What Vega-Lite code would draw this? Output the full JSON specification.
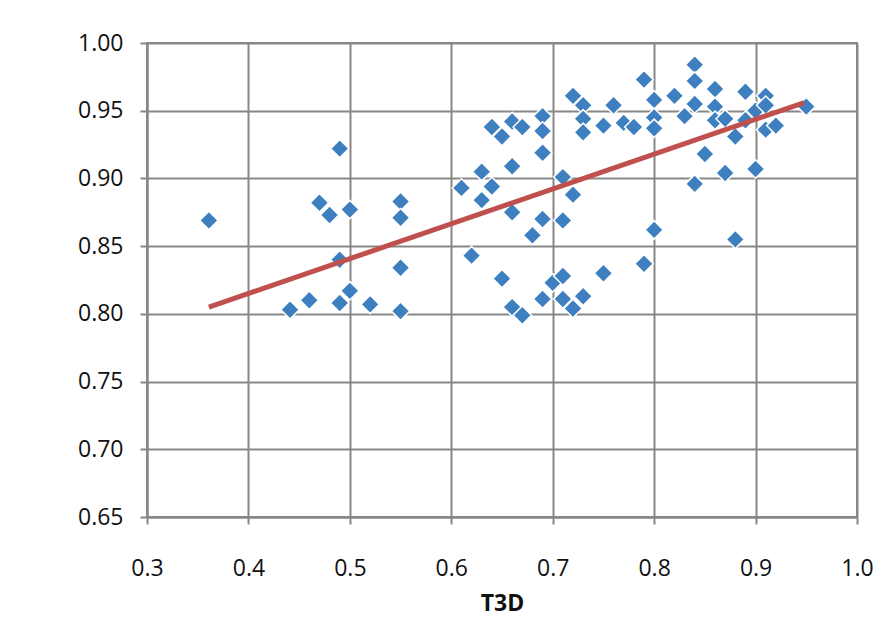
{
  "$schema": "https://vega.github.io/schema/vega-lite/v6.json",
  "width": 710,
  "height": 474,
  "autosize": {"type": "none"},
  "padding": {"left": 147, "top": 43, "right": 20, "bottom": 114},
  "background": "white",
  "config": {
    "view": {"stroke": "#878787", "strokeWidth": 2},
    "axis": {
      "gridColor": "#878787",
      "gridWidth": 2,
      "gridOpacity": 1,
      "domainColor": "#878787",
      "domainWidth": 2,
      "tickColor": "#878787",
      "tickWidth": 2,
      "tickSize": 7,
      "labelFont": "Open Sans",
      "labelFontSize": 23,
      "labelColor": "#111111",
      "titleFont": "Open Sans",
      "titleFontSize": 23,
      "titleFontWeight": "bold",
      "titleColor": "#111111",
      "labelOverlap": false,
      "labelBound": false,
      "labelFlush": false
    }
  },
  "datasets": {
    "pts": [
      {"T3D": 0.361, "v": 0.869}, {"T3D": 0.441, "v": 0.803}, {"T3D": 0.460, "v": 0.810},
      {"T3D": 0.470, "v": 0.882}, {"T3D": 0.480, "v": 0.873}, {"T3D": 0.490, "v": 0.922},
      {"T3D": 0.490, "v": 0.840}, {"T3D": 0.490, "v": 0.808}, {"T3D": 0.500, "v": 0.877},
      {"T3D": 0.500, "v": 0.817}, {"T3D": 0.520, "v": 0.807}, {"T3D": 0.550, "v": 0.883},
      {"T3D": 0.550, "v": 0.871}, {"T3D": 0.550, "v": 0.834}, {"T3D": 0.550, "v": 0.802},
      {"T3D": 0.610, "v": 0.893}, {"T3D": 0.620, "v": 0.843}, {"T3D": 0.630, "v": 0.905},
      {"T3D": 0.630, "v": 0.884}, {"T3D": 0.640, "v": 0.894}, {"T3D": 0.640, "v": 0.938},
      {"T3D": 0.650, "v": 0.931}, {"T3D": 0.650, "v": 0.826}, {"T3D": 0.660, "v": 0.942},
      {"T3D": 0.660, "v": 0.909}, {"T3D": 0.660, "v": 0.875}, {"T3D": 0.660, "v": 0.805},
      {"T3D": 0.670, "v": 0.938}, {"T3D": 0.670, "v": 0.799}, {"T3D": 0.680, "v": 0.858},
      {"T3D": 0.690, "v": 0.946}, {"T3D": 0.690, "v": 0.935}, {"T3D": 0.690, "v": 0.919},
      {"T3D": 0.690, "v": 0.870}, {"T3D": 0.690, "v": 0.811}, {"T3D": 0.700, "v": 0.823},
      {"T3D": 0.710, "v": 0.901}, {"T3D": 0.710, "v": 0.869}, {"T3D": 0.710, "v": 0.828},
      {"T3D": 0.710, "v": 0.811}, {"T3D": 0.720, "v": 0.961}, {"T3D": 0.720, "v": 0.888},
      {"T3D": 0.720, "v": 0.804}, {"T3D": 0.730, "v": 0.954}, {"T3D": 0.730, "v": 0.944},
      {"T3D": 0.730, "v": 0.934}, {"T3D": 0.730, "v": 0.813}, {"T3D": 0.750, "v": 0.939},
      {"T3D": 0.750, "v": 0.830}, {"T3D": 0.760, "v": 0.954}, {"T3D": 0.770, "v": 0.941},
      {"T3D": 0.780, "v": 0.938}, {"T3D": 0.790, "v": 0.973}, {"T3D": 0.790, "v": 0.837},
      {"T3D": 0.800, "v": 0.958}, {"T3D": 0.800, "v": 0.945}, {"T3D": 0.800, "v": 0.937},
      {"T3D": 0.800, "v": 0.862}, {"T3D": 0.820, "v": 0.961}, {"T3D": 0.830, "v": 0.946},
      {"T3D": 0.840, "v": 0.984}, {"T3D": 0.840, "v": 0.972}, {"T3D": 0.840, "v": 0.955},
      {"T3D": 0.840, "v": 0.896}, {"T3D": 0.850, "v": 0.918}, {"T3D": 0.860, "v": 0.966},
      {"T3D": 0.860, "v": 0.953}, {"T3D": 0.860, "v": 0.943}, {"T3D": 0.870, "v": 0.944},
      {"T3D": 0.870, "v": 0.904}, {"T3D": 0.880, "v": 0.931}, {"T3D": 0.880, "v": 0.855},
      {"T3D": 0.890, "v": 0.964}, {"T3D": 0.890, "v": 0.943}, {"T3D": 0.900, "v": 0.950},
      {"T3D": 0.900, "v": 0.907}, {"T3D": 0.910, "v": 0.961}, {"T3D": 0.910, "v": 0.954},
      {"T3D": 0.910, "v": 0.936}, {"T3D": 0.920, "v": 0.939}, {"T3D": 0.950, "v": 0.953}
    ],
    "trend": [
      {"T3D": 0.361, "v": 0.805},
      {"T3D": 0.948, "v": 0.956}
    ]
  },
  "layer": [
    {
      "data": {"name": "pts"},
      "mark": {"type": "point", "shape": "diamond", "filled": true, "size": 340, "color": "#3E7FC0", "stroke": "white", "strokeWidth": 1.5, "opacity": 1},
      "encoding": {
        "x": {
          "field": "T3D", "type": "quantitative",
          "scale": {"domain": [0.3, 1.0], "nice": false, "zero": false},
          "axis": {"values": [0.3, 0.4, 0.5, 0.6, 0.7, 0.8, 0.9, 1.0], "format": ".1f", "labelPadding": 33, "title": "T3D", "titlePadding": 12}
        },
        "y": {
          "field": "v", "type": "quantitative",
          "scale": {"domain": [0.65, 1.0], "nice": false, "zero": false},
          "axis": {"values": [0.65, 0.7, 0.75, 0.8, 0.85, 0.9, 0.95, 1.0], "format": ".2f", "labelPadding": 17, "title": null}
        }
      }
    },
    {
      "data": {"name": "trend"},
      "mark": {"type": "line", "color": "#C0504D", "strokeWidth": 5},
      "encoding": {
        "x": {"field": "T3D", "type": "quantitative"},
        "y": {"field": "v", "type": "quantitative"}
      }
    }
  ]
}
